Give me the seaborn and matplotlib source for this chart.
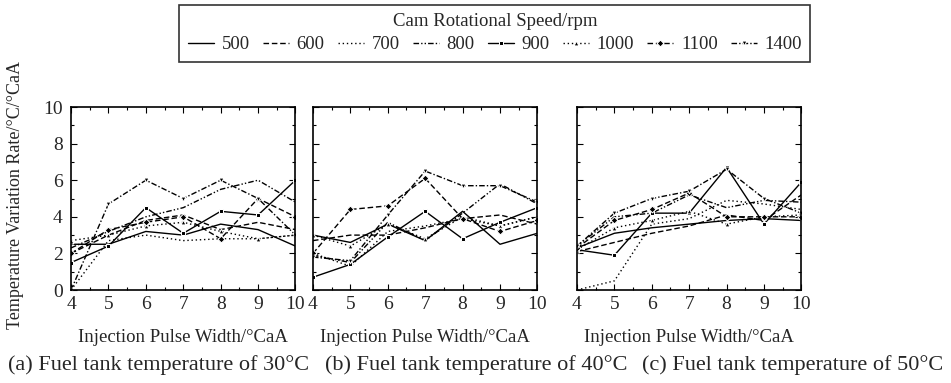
import numpy as np
import pandas as pd
import matplotlib
matplotlib.use('Agg')
import matplotlib.pyplot as plt
import seaborn as sns
from matplotlib.ticker import MultipleLocator

sns.set_style('ticks')
plt.rcParams['font.family'] = ['Liberation Serif', 'DejaVu Serif']

pulse = [4, 5, 6, 7, 8, 9, 10]
speeds = ['500', '600', '700', '800', '900', '1000', '1100', '1400']

# fuel tank 30 C
t30_500 = [2.5, 2.5, 3.2, 3.0, 3.6, 3.3, 2.4]
t30_600 = [2.0, 3.0, 3.8, 4.1, 3.3, 3.7, 3.3]
t30_700 = [0.0, 2.7, 3.0, 2.7, 2.8, 2.8, 3.0]
t30_800 = [2.3, 3.2, 4.0, 4.5, 5.5, 6.0, 4.8]
t30_900 = [1.5, 2.4, 4.5, 3.1, 4.3, 4.1, 6.0]
t30_1000 = [2.7, 3.0, 3.5, 3.7, 3.2, 2.8, 3.0]
t30_1100 = [2.0, 3.3, 3.7, 4.0, 2.8, 5.0, 4.0]
t30_1400 = [0.0, 4.7, 6.0, 5.0, 6.0, 5.0, 3.0]

# fuel tank 40 C
t40_500 = [3.0, 2.6, 3.6, 2.7, 4.3, 2.5, 3.1]
t40_600 = [2.7, 3.0, 3.0, 3.4, 3.9, 4.1, 3.6]
t40_700 = [2.0, 1.3, 3.2, 3.5, 3.9, 3.5, 4.0]
t40_800 = [1.9, 1.5, 3.7, 2.7, 4.2, 5.8, 4.7]
t40_900 = [0.7, 1.4, 2.9, 4.3, 2.8, 3.7, 4.5]
t40_1000 = [3.0, 2.4, 3.6, 2.8, 4.0, 3.5, 4.0]
t40_1100 = [2.0, 4.4, 4.6, 6.1, 3.9, 3.2, 3.8]
t40_1400 = [1.8, 1.6, 4.1, 6.5, 5.7, 5.7, 4.8]

# fuel tank 50 C
t50_500 = [2.3, 3.1, 3.4, 3.6, 3.8, 3.9, 3.8]
t50_600 = [2.1, 2.6, 3.1, 3.5, 4.1, 3.8, 5.2]
t50_700 = [0.0, 0.5, 3.6, 3.9, 4.9, 4.7, 4.4]
t50_800 = [2.4, 4.0, 4.2, 5.2, 4.5, 4.9, 4.8]
t50_900 = [2.2, 1.9, 4.2, 4.2, 6.7, 3.6, 5.9]
t50_1000 = [2.2, 3.4, 3.8, 4.3, 3.6, 4.0, 4.1]
t50_1100 = [2.3, 3.8, 4.4, 5.3, 4.0, 4.0, 4.0]
t50_1400 = [2.4, 4.2, 5.0, 5.4, 6.6, 5.0, 4.2]

panels = [
    ('(a) Fuel tank temperature of 30°C',
     [t30_500, t30_600, t30_700, t30_800, t30_900, t30_1000, t30_1100, t30_1400]),
    ('(b) Fuel tank temperature of 40°C',
     [t40_500, t40_600, t40_700, t40_800, t40_900, t40_1000, t40_1100, t40_1400]),
    ('(c) Fuel tank temperature of 50°C',
     [t50_500, t50_600, t50_700, t50_800, t50_900, t50_1000, t50_1100, t50_1400]),
]

line_styles = {
    '500': '-',
    '600': (0, (4, 2)),
    '700': (0, (1, 2)),
    '800': (0, (4, 1.5, 1, 1.5, 1, 1.5)),
    '900': '-',
    '1000': (0, (1, 2)),
    '1100': (0, (4, 2)),
    '1400': (0, (4, 1.5, 1, 1.5)),
}
markers = {
    '500': None, '600': None, '700': None, '800': None,
    '900': 's', '1000': '^', '1100': 'D', '1400': 'v',
}

fig = plt.figure(figsize=(9.51, 3.83), dpi=100)
lefts = [0.0747, 0.3291, 0.6067]
axes = [fig.add_axes([l, 0.2428, 0.236, 0.4778]) for l in lefts]
caption_x = [159, 476, 793]

for i, (ax, (caption, series)) in enumerate(zip(axes, panels)):
    for sp, vals in zip(speeds, series):
        df = pd.DataFrame({'pulse': pulse, 'rate': vals})
        sns.lineplot(data=df, x='pulse', y='rate', ax=ax, color='black',
                     linestyle=line_styles[sp], marker=markers[sp],
                     markersize=3.5, linewidth=1.0, label=sp, legend=False)
    ax.set_xlim(4, 10)
    ax.set_ylim(0, 10)
    ax.xaxis.set_major_locator(MultipleLocator(1))
    ax.xaxis.set_minor_locator(MultipleLocator(0.5))
    ax.yaxis.set_major_locator(MultipleLocator(2))
    ax.yaxis.set_minor_locator(MultipleLocator(1))
    ax.tick_params(which='both', direction='in', top=True, right=True,
                   labelsize=14, color='black', width=0.8)
    ax.tick_params(which='major', length=4, pad=4)
    ax.tick_params(which='minor', length=2.5)
    ax.tick_params(axis='y', pad=6)
    for s in ax.spines.values():
        s.set_linewidth(1.2)
        s.set_color('black')
    ax.set_xlabel('Injection Pulse Width/°CaA', fontsize=13.5, va='center')
    ax.xaxis.set_label_coords(0.5, -0.257)
    fig.text(caption_x[i] / 951, 1 - 365 / 383, caption, ha='center',
             va='center', fontsize=16)
    ax.set_ylabel('')
    if i > 0:
        ax.set_yticklabels([])

fig.text(16 / 951, 1 - 195 / 383, 'Temperature Variation Rate/°C/°CaA',
         rotation=90, ha='center', va='center', fontsize=13)

handles = axes[0].get_lines()[:len(speeds)]

leg = fig.legend(handles, speeds, loc='upper center',
                 bbox_to_anchor=(0.5205, 1 - 5 / 383), ncol=8,
                 title='Cam Rotational Speed/rpm', fontsize=13.5,
                 title_fontsize=13.5, frameon=True, fancybox=False,
                 edgecolor='black', handlelength=1.4, columnspacing=0.7,
                 handletextpad=0.4, borderpad=0.45, labelspacing=0.3,
                 borderaxespad=0)
leg.get_frame().set_linewidth(1.2)

fig.savefig('out.png', dpi=100)
